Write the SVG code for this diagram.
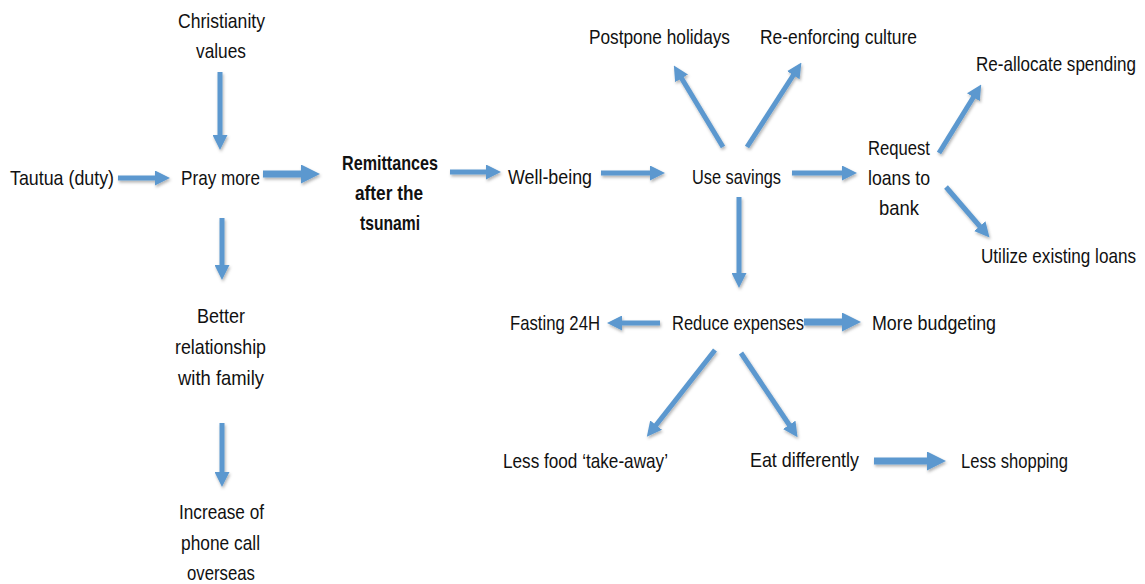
<svg xmlns="http://www.w3.org/2000/svg" width="1145" height="584" viewBox="0 0 1145 584">
<style>
.t{font-family:"Liberation Sans",Arial,sans-serif;font-size:21px;fill:#111}
.b{font-weight:bold}
.c{stroke:#5b98cf;stroke-width:5;fill:none}
.k{stroke-width:7}
</style>
<defs>
<filter id="sh" x="-20%" y="-20%" width="140%" height="140%">
<feDropShadow dx="1" dy="2" stdDeviation="1.5" flood-color="#000" flood-opacity="0.3"/>
</filter>
<marker id="ah" markerUnits="userSpaceOnUse" viewBox="0 0 15 15" markerWidth="15" markerHeight="15" refX="5" refY="7.5" orient="auto">
<path d="M0,0 L15,7.5 L0,15 z" fill="#5b98cf"/>
</marker>
<marker id="ahb" markerUnits="userSpaceOnUse" viewBox="0 0 19 19" markerWidth="19" markerHeight="19" refX="7" refY="9.5" orient="auto">
<path d="M0,0 L19,9.5 L0,19 z" fill="#5b98cf"/>
</marker>
</defs>
<rect width="1145" height="584" fill="#fff"/>
<g id="connectors" filter="url(#sh)">
<line class="c" x1="220" y1="72" x2="220" y2="140" marker-end="url(#ah)"/>
<line class="c" x1="118" y1="178" x2="160" y2="178" marker-end="url(#ah)"/>
<line class="c k" x1="263" y1="174" x2="308" y2="174" marker-end="url(#ahb)"/>
<line class="c" x1="222" y1="218" x2="222" y2="270" marker-end="url(#ah)"/>
<line class="c" x1="222" y1="423" x2="222" y2="477" marker-end="url(#ah)"/>
<line class="c" x1="450" y1="172" x2="491" y2="172" marker-end="url(#ah)"/>
<line class="c" x1="601" y1="173" x2="655" y2="173" marker-end="url(#ah)"/>
<line class="c" x1="792" y1="173" x2="847" y2="173" marker-end="url(#ah)"/>
<line class="c" x1="723" y1="147" x2="679" y2="74" marker-end="url(#ah)"/>
<line class="c" x1="747" y1="147" x2="796" y2="71" marker-end="url(#ah)"/>
<line class="c" x1="939" y1="153" x2="976" y2="93" marker-end="url(#ah)"/>
<line class="c" x1="946" y1="187" x2="983" y2="230" marker-end="url(#ah)"/>
<line class="c" x1="739" y1="197" x2="739" y2="278" marker-end="url(#ah)"/>
<line class="c" x1="660" y1="323" x2="617" y2="323" marker-end="url(#ah)"/>
<line class="c k" x1="804" y1="322" x2="849" y2="322" marker-end="url(#ahb)"/>
<line class="c" x1="715" y1="350" x2="653" y2="429" marker-end="url(#ah)"/>
<line class="c" x1="741" y1="353" x2="792" y2="429" marker-end="url(#ah)"/>
<line class="c k" x1="874" y1="461" x2="934" y2="461" marker-end="url(#ahb)"/>
</g>
<g id="christianity"><text class="t" x="178" y="28" textLength="87" lengthAdjust="spacingAndGlyphs">Christianity</text><text class="t" x="196" y="58" textLength="50" lengthAdjust="spacingAndGlyphs">values</text></g>
<g id="tautua"><text class="t" x="10" y="185" textLength="104" lengthAdjust="spacingAndGlyphs">Tautua (duty)</text></g>
<g id="pray"><text class="t" x="181" y="185" textLength="79" lengthAdjust="spacingAndGlyphs">Pray more</text></g>
<g id="remittances"><text class="t b" x="342" y="170" textLength="96" lengthAdjust="spacingAndGlyphs">Remittances</text><text class="t b" x="355" y="200" textLength="68" lengthAdjust="spacingAndGlyphs">after the</text><text class="t b" x="360" y="230" textLength="60" lengthAdjust="spacingAndGlyphs">tsunami</text></g>
<g id="wellbeing"><text class="t" x="508" y="184" textLength="84" lengthAdjust="spacingAndGlyphs">Well-being</text></g>
<g id="savings"><text class="t" x="692" y="184" textLength="89" lengthAdjust="spacingAndGlyphs">Use savings</text></g>
<g id="request"><text class="t" x="868" y="155" textLength="62" lengthAdjust="spacingAndGlyphs">Request</text><text class="t" x="868" y="185" textLength="62" lengthAdjust="spacingAndGlyphs">loans to</text><text class="t" x="879" y="215" textLength="40" lengthAdjust="spacingAndGlyphs">bank</text></g>
<g id="postpone"><text class="t" x="589" y="44" textLength="141" lengthAdjust="spacingAndGlyphs">Postpone holidays</text></g>
<g id="reenforcing"><text class="t" x="760" y="44" textLength="157" lengthAdjust="spacingAndGlyphs">Re-enforcing culture</text></g>
<g id="reallocate"><text class="t" x="976" y="71" textLength="160" lengthAdjust="spacingAndGlyphs">Re-allocate spending</text></g>
<g id="utilize"><text class="t" x="981" y="263" textLength="155" lengthAdjust="spacingAndGlyphs">Utilize existing loans</text></g>
<g id="fasting"><text class="t" x="510" y="330" textLength="90" lengthAdjust="spacingAndGlyphs">Fasting 24H</text></g>
<g id="reduce"><text class="t" x="672" y="330" textLength="132" lengthAdjust="spacingAndGlyphs">Reduce expenses</text></g>
<g id="budgeting"><text class="t" x="872" y="330" textLength="124" lengthAdjust="spacingAndGlyphs">More budgeting</text></g>
<g id="lessfood"><text class="t" x="503" y="468" textLength="165" lengthAdjust="spacingAndGlyphs">Less food ‘take-away’</text></g>
<g id="eat"><text class="t" x="750" y="467" textLength="109" lengthAdjust="spacingAndGlyphs">Eat differently</text></g>
<g id="shopping"><text class="t" x="961" y="468" textLength="107" lengthAdjust="spacingAndGlyphs">Less shopping</text></g>
<g id="relationship"><text class="t" x="197" y="323" textLength="48" lengthAdjust="spacingAndGlyphs">Better</text><text class="t" x="175" y="354" textLength="91" lengthAdjust="spacingAndGlyphs">relationship</text><text class="t" x="178" y="385" textLength="86" lengthAdjust="spacingAndGlyphs">with family</text></g>
<g id="phone"><text class="t" x="179" y="519" textLength="85" lengthAdjust="spacingAndGlyphs">Increase of</text><text class="t" x="181" y="550" textLength="79" lengthAdjust="spacingAndGlyphs">phone call</text><text class="t" x="187" y="580" textLength="68" lengthAdjust="spacingAndGlyphs">overseas</text></g>
</svg>
